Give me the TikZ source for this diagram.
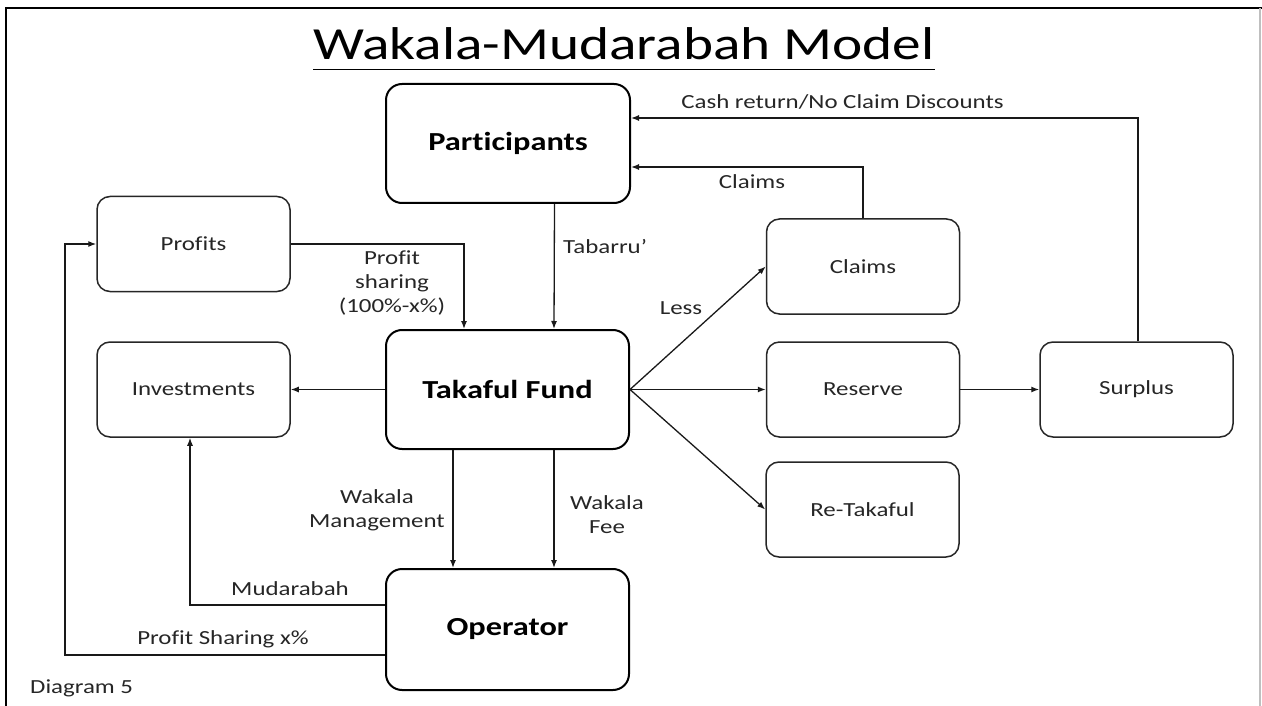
\documentclass[tikz,border=0pt]{standalone}
\usepackage{fontspec}
\setmainfont{Carlito}[Ligatures=NoCommon]
\usepackage{graphicx}
\usetikzlibrary{arrows.meta,positioning}
\newcommand{\sx}[1]{\scalebox{1.245}[1]{#1}}
\tikzset{
  bigbox/.style={draw=black, line width=2pt, rounded corners=16pt, fill=white,
    font=\fontsize{26}{30}\selectfont\bfseries},
  smallbox/.style={draw=black!85, line width=1.5pt, rounded corners=13pt, fill=white,
    minimum width=193pt, minimum height=95pt, font=\fontsize{20}{24}\selectfont, text=black!85},
  lbl/.style={font=\fontsize{20}{24}\selectfont, align=center, inner sep=0pt, text=black!85},
  arr/.style={-{Latex[length=8pt,width=6pt]}, line width=1.3pt, draw=black!90},
}
\begin{document}
\begin{tikzpicture}[x=1pt,y=-1pt]
\useasboundingbox (0,0) rectangle (1262,706);
% frame
\draw[line width=2.5pt, line cap=rect] (6,706) -- (6,8) -- (1262,8);
\draw[line width=1.5pt, black!25] (1260,8) -- (1260,706);
% title
\node[font=\fontsize{46}{52}\selectfont, inner sep=0pt, anchor=base] (title) at (624,60) {\sx{\underline{Wakala-Mudarabah Model\vphantom{p}}}};
% boxes
\node[bigbox, minimum width=244pt, minimum height=119pt] (P) at (508,143.5) {\sx{Participants}};
\node[bigbox, minimum width=243pt, minimum height=119pt] (T) at (507.5,389.5) {\sx{Takaful Fund}};
\node[bigbox, minimum width=243pt, minimum height=121pt] (O) at (507.5,629.5) {\sx{Operator}};
\node[smallbox] (Pr) at (193.5,244) {\sx{Profits}};
\node[smallbox] (Inv) at (193.5,389.5) {\sx{Investments}};
\node[smallbox] (Cl) at (863,266.5) {\sx{Claims}};
\node[smallbox] (Re) at (863,389.5) {\sx{Reserve}};
\node[smallbox] (RT) at (862.5,509.5) {\sx{Re-Takaful}};
\node[smallbox] (S) at (1136.5,389.5) {\sx{Surplus}};
% connectors
\coordinate (lc) at (65,0);
\draw[arr] ([xshift=46.5pt]P.south) -- ([xshift=46.5pt]T.north);
\draw[arr] (Pr.east) -| ([xshift=-43.5pt]T.north);
\draw[arr] (T.west) -- (Inv.east);
\draw[arr] ([yshift=24.5pt]O.west) -| ([xshift=-3.5pt]Inv.south);
\draw[arr] ([yshift=-25.5pt]O.west) -| (lc |- Pr.west) -- (Pr.west);
\draw[arr] ([xshift=-54.5pt]T.south) -- ([xshift=-54.5pt]O.north);
\draw[arr] ([xshift=46.5pt]T.south) -- ([xshift=46.5pt]O.north);
\draw[arr] (T.east) -- (Cl.west);
\draw[arr] (T.east) -- (Re.west);
\draw[arr] (T.east) -- (RT.west);
\draw[arr] (Re.east) -- (S.west);
\draw[arr] (Cl.north) |- ([yshift=-23.5pt]P.east);
\draw[arr] ([xshift=1.5pt]S.north) |- ([yshift=25.5pt]P.east);
% labels
\node[lbl] (l1) at (842.5,102) {\sx{Cash return/No Claim Discounts}};
\node[lbl] (l2) at (752,182) {\sx{Claims}};
\node[lbl, anchor=west] (l3) at (563,247) {\sx{Tabarru’}};
\node[lbl] (l4) at (392,283) {\sx{Profit}\\\sx{sharing}\\\sx{(100\%-x\%)}};
\node[lbl] (l5) at (681,308) {\sx{Less}};
\node[lbl] (l6) at (377,510) {\sx{Wakala}\\\sx{Management}};
\node[lbl] (l7) at (607,514.5) {\sx{Wakala}\\\sx{Fee}};
\node[lbl] (l8) at (290,589) {\sx{Mudarabah}};
\node[lbl] (l9) at (223,639) {\sx{Profit Sharing x\%}};
\node[lbl, anchor=west] (l10) at (30,688) {\sx{Diagram 5}};
\end{tikzpicture}
\end{document}
